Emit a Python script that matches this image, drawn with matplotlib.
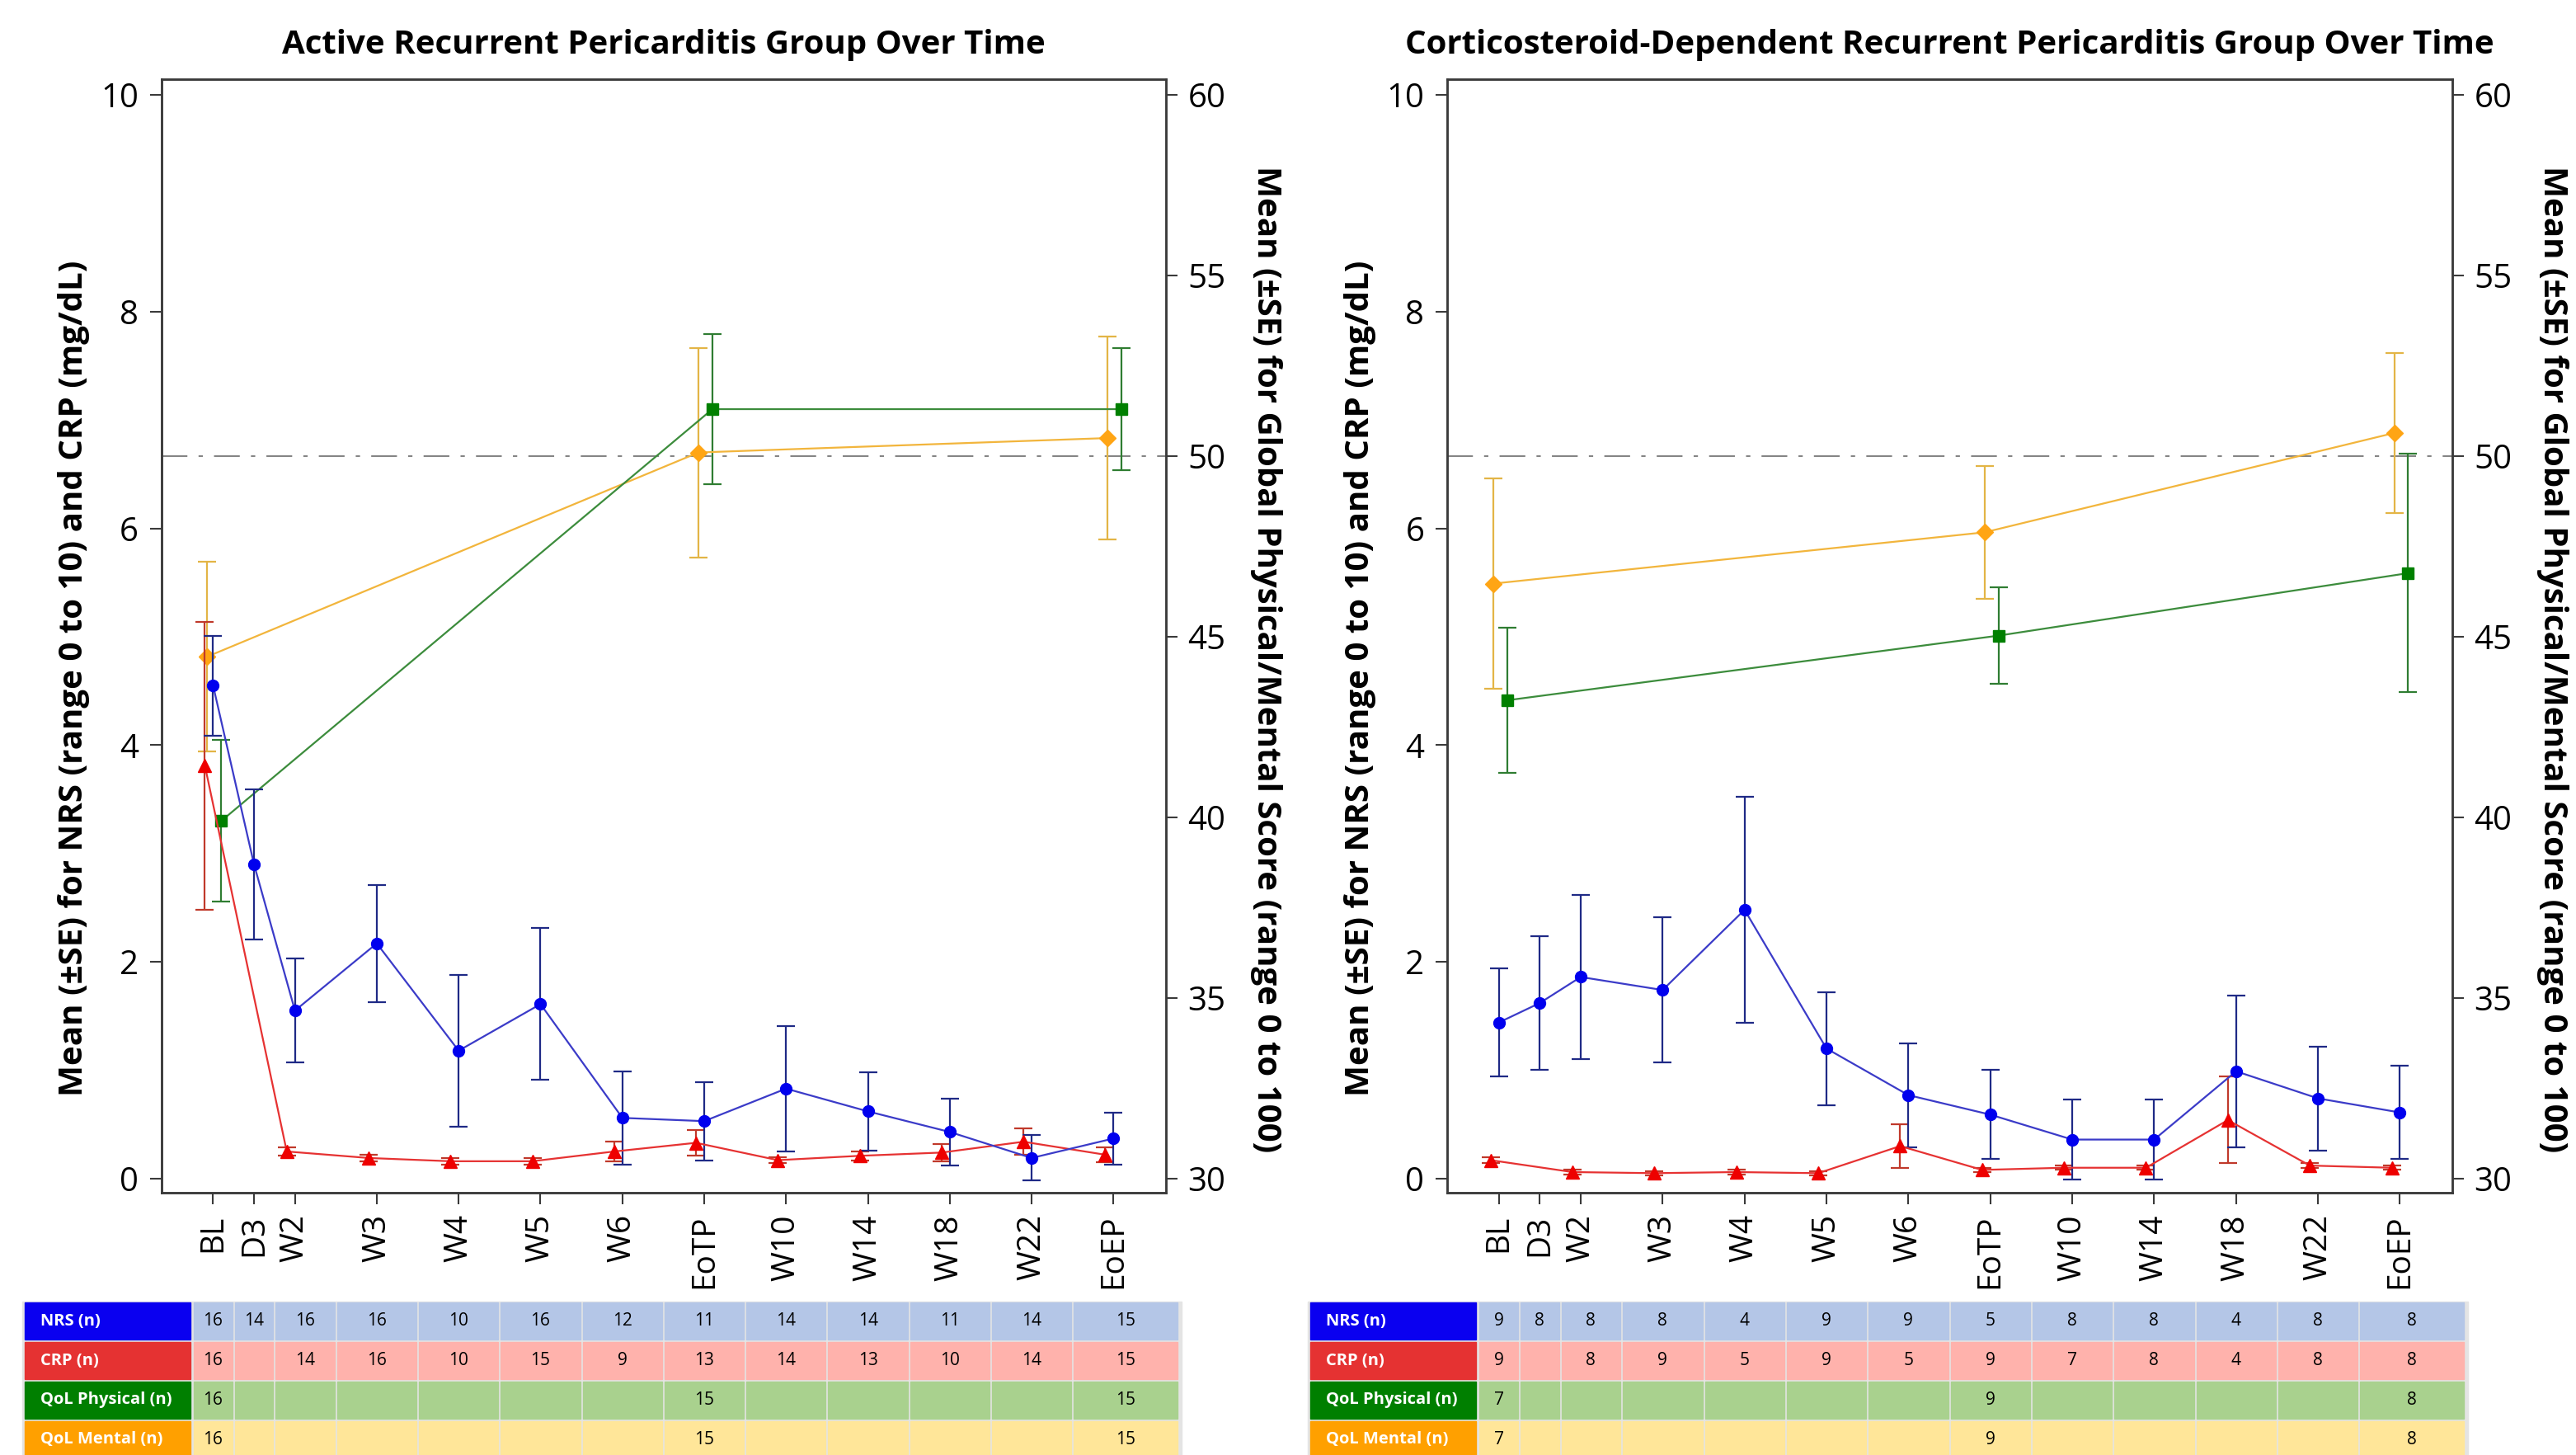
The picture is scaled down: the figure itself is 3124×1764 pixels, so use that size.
import numpy as np
import matplotlib.pyplot as plt
from matplotlib.patches import Rectangle

plt.rcParams['font.family'] = ['Open Sans', 'DejaVu Sans']

# ---- data ---------------------------------------------------------------
VISITS = ['BL', 'D3', 'W2', 'W3', 'W4', 'W5', 'W6', 'EoTP', 'W10', 'W14', 'W18', 'W22', 'EoEP']
QOL_VISITS = ['BL', 'EoTP', 'EoEP']

# Active recurrent pericarditis
active_nrs = [4.55, 2.90, 1.55, 2.17, 1.18, 1.61, 0.56, 0.53, 0.83, 0.62, 0.43, 0.19, 0.37]
active_nrs_se = [0.46, 0.69, 0.48, 0.54, 0.70, 0.70, 0.43, 0.36, 0.58, 0.36, 0.31, 0.21, 0.24]
active_crp = [3.81, np.nan, 0.25, 0.19, 0.16, 0.16, 0.25, 0.33, 0.17, 0.21, 0.24, 0.34, 0.22]
active_crp_se = [1.33, np.nan, 0.04, 0.03, 0.03, 0.03, 0.09, 0.12, 0.03, 0.04, 0.08, 0.12, 0.07]
active_phys = [39.9, 51.3, 51.3]
active_phys_se = [2.24, 2.07, 1.70]
active_ment = [44.45, 50.1, 50.5]
active_ment_se = [2.63, 2.90, 2.80]

active_n_nrs = ['16', '14', '16', '16', '10', '16', '12', '11', '14', '14', '11', '14', '15']
active_n_crp = ['16', '', '14', '16', '10', '15', '9', '13', '14', '13', '10', '14', '15']
active_n_phys = ['16', '', '', '', '', '', '', '15', '', '', '', '', '15']
active_n_ment = ['16', '', '', '', '', '', '', '15', '', '', '', '', '15']

# Corticosteroid-dependent recurrent pericarditis
csd_nrs = [1.44, 1.62, 1.86, 1.74, 2.48, 1.20, 0.77, 0.59, 0.36, 0.36, 0.99, 0.74, 0.61]
csd_nrs_se = [0.50, 0.62, 0.76, 0.67, 1.04, 0.52, 0.48, 0.41, 0.37, 0.37, 0.70, 0.48, 0.43]
csd_crp = [0.17, np.nan, 0.06, 0.05, 0.06, 0.05, 0.30, 0.08, 0.10, 0.10, 0.54, 0.12, 0.10]
csd_crp_se = [0.03, np.nan, 0.02, 0.02, 0.02, 0.02, 0.20, 0.02, 0.02, 0.02, 0.40, 0.02, 0.02]
csd_phys = [43.24, 45.03, 46.76]
csd_phys_se = [2.00, 1.34, 3.30]
csd_ment = [46.47, 47.89, 50.64]
csd_ment_se = [2.92, 1.83, 2.21]

csd_n_nrs = ['9', '8', '8', '8', '4', '9', '9', '5', '8', '8', '4', '8', '8']
csd_n_crp = ['9', '', '8', '9', '5', '9', '5', '9', '7', '8', '4', '8', '8']
csd_n_phys = ['7', '', '', '', '', '', '', '9', '', '', '', '', '8']
csd_n_ment = ['7', '', '', '', '', '', '', '9', '', '', '', '', '8']

TABLE_ROWS = ['NRS (n)', 'CRP (n)', 'QoL Physical (n)', 'QoL Mental (n)']

# ---- styling --------------------------------------------------------------
SPINE = '#3a3a3a'
ROW_HEAD = ['#0a00f0', '#e53232', '#007f00', '#ffa000']
ROW_CELL = ['#b4c6e7', '#ffb2ac', '#a9d18e', '#ffe699']

# BL, D3 and W2 sit half a step apart, the later visits one step apart
x_pos = np.concatenate([[0.0, 0.5], np.arange(1, len(VISITS) - 1)])
qol_pos = np.array([x_pos[VISITS.index(v)] for v in QOL_VISITS])
XLIM = (-0.63, 11.64)
YLIM = (-0.13, 10.145)


def series(ax, x, y, se, line, err, marker, face, ms, shift):
    y = np.asarray(y, dtype=float)
    se = np.asarray(se, dtype=float)
    ok = ~np.isnan(y)
    ax.errorbar(x[ok] + shift, y[ok], yerr=se[ok], color=line, ecolor=err, lw=1.6,
                elinewidth=1.6, capsize=8, capthick=1.6, marker=marker, ms=ms,
                mfc=face, mec=face, zorder=3)


def draw_panel(ax, title, nrs, nrs_se, crp, crp_se, phys, phys_se, ment, ment_se):
    ax2 = ax.twinx()
    ax.set_xlim(*XLIM)
    ax.set_ylim(*YLIM)
    ax2.set_ylim(30 + 3 * YLIM[0], 30 + 3 * YLIM[1])

    # reference line at 50 on the QoL scale
    ax2.axhline(50, color='#858585', lw=1.5, ls=(0, (15, 6.5, 2.5, 6.5)), zorder=1)
    series(ax2, qol_pos, ment, ment_se, '#f2b53c', '#e3b546', 'D', '#ffa514', 10, -0.07)
    series(ax2, qol_pos, phys, phys_se, '#3c8c3c', '#2f7d32', 's', '#008000', 10, 0.1)
    series(ax, x_pos, crp, crp_se, '#e63232', '#c0392b', '^', '#ee0000', 11, -0.1)
    series(ax, x_pos, nrs, nrs_se, '#3b3bc8', '#1f2a86', 'o', '#0000ee', 10, 0.0)
    ax.set_zorder(ax2.get_zorder() + 1)
    ax.patch.set_visible(False)

    ax.set_yticks([0, 2, 4, 6, 8, 10])
    ax2.set_yticks([30, 35, 40, 45, 50, 55, 60])
    ax.set_xticks(x_pos)
    ax.set_xticklabels(VISITS, rotation=90)
    ax.tick_params(axis='y', direction='out', length=10, width=1.5, color=SPINE,
                   labelsize=29, pad=10)
    ax.tick_params(axis='x', direction='out', length=10, width=1.5, color=SPINE,
                   labelsize=28, pad=9)
    ax2.tick_params(axis='y', direction='out', length=10, width=1.5, color=SPINE,
                    labelsize=29, pad=9)
    for a in (ax, ax2):
        for s in a.spines.values():
            s.set_color(SPINE)
            s.set_linewidth(1.8)

    ax.set_title(title, fontsize=29, fontweight='bold', pad=22)
    ax.set_ylabel('Mean (\u00b1SE) for NRS (range 0 to 10) and CRP (mg/dL)',
                  fontsize=29, fontweight='bold')
    ax.yaxis.set_label_coords(-0.071, 0.462)
    ax2.set_ylabel('Mean (\u00b1SE) for Global Physical/Mental Score (range 0 to 100)',
                   fontsize=29, fontweight='bold', rotation=-90, va='center')
    ax2.yaxis.set_label_coords(1.1, 0.479)


def draw_table(fig, ax, rows):
    box = ax.get_position()
    tab = fig.add_axes([box.x0, -0.0031, box.width, 0.1088])
    tab.set_xlim(*XLIM)
    tab.set_ylim(len(rows), 0)
    tab.axis('off')

    edges = np.concatenate([[x_pos[0] - 0.25], (x_pos[1:] + x_pos[:-1]) / 2, [x_pos[-1] + 0.8]])
    head = (-2.3, -0.28)
    tab.add_patch(Rectangle((head[0] - 0.03, 0), edges[-1] - head[0] + 0.06, len(rows),
                            color='#e4e4e4', clip_on=False, zorder=0))
    for i, (name, counts) in enumerate(zip(TABLE_ROWS, rows)):
        tab.add_patch(Rectangle((head[0], i + 0.035), head[1] - head[0], 0.93,
                                color=ROW_HEAD[i], clip_on=False, zorder=1))
        tab.text(head[0] + 0.19, i + 0.5, name, color='white', fontweight='bold',
                 fontsize=14.5, va='center', ha='left', clip_on=False)
        for j, n in enumerate(counts):
            tab.add_patch(Rectangle((edges[j] + 0.015, i + 0.035), edges[j + 1] - edges[j] - 0.03,
                                    0.93, color=ROW_CELL[i], clip_on=False, zorder=1))
            tab.text((edges[j] + edges[j + 1]) / 2, i + 0.5, n, fontsize=15,
                     va='center', ha='center', clip_on=False)


fig = plt.figure(figsize=(31.24, 17.64), dpi=100)
ax_l = fig.add_axes([0.0627, 0.1803, 0.3899, 0.7653])
ax_r = fig.add_axes([0.5618, 0.1803, 0.3902, 0.7653])

draw_panel(ax_l, 'Active Recurrent Pericarditis Group Over Time',
           active_nrs, active_nrs_se, active_crp, active_crp_se,
           active_phys, active_phys_se, active_ment, active_ment_se)
draw_panel(ax_r, 'Corticosteroid-Dependent Recurrent Pericarditis Group Over Time',
           csd_nrs, csd_nrs_se, csd_crp, csd_crp_se,
           csd_phys, csd_phys_se, csd_ment, csd_ment_se)

draw_table(fig, ax_l, [active_n_nrs, active_n_crp, active_n_phys, active_n_ment])
draw_table(fig, ax_r, [csd_n_nrs, csd_n_crp, csd_n_phys, csd_n_ment])

fig.savefig('out.png', dpi=100, facecolor='white')
